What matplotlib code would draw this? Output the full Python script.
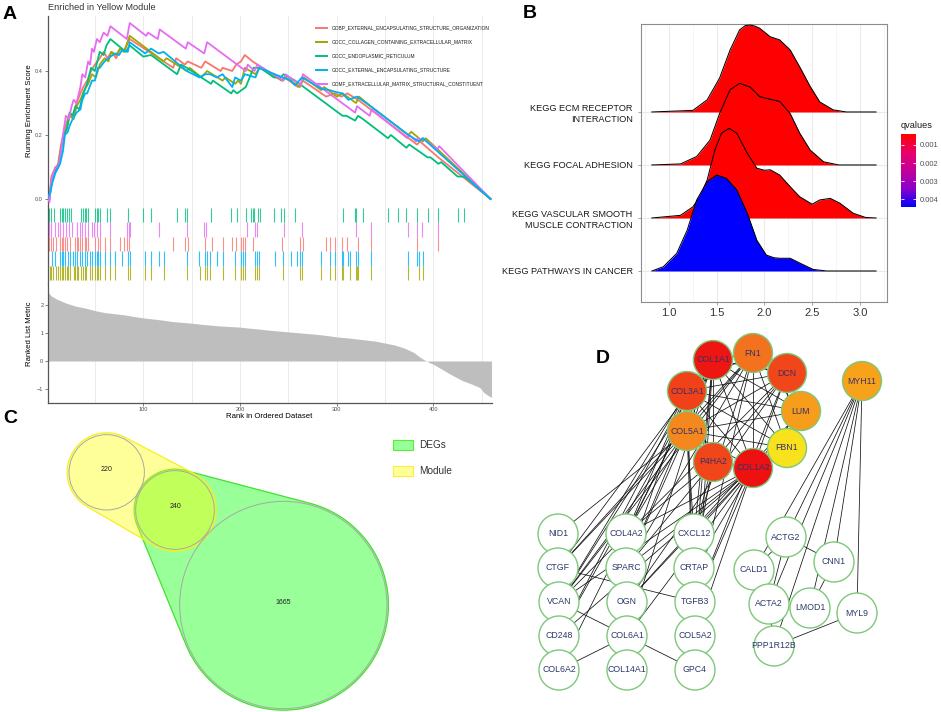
import numpy as np
import matplotlib.pyplot as plt
from matplotlib.colors import LinearSegmentedColormap, Normalize
from matplotlib.patches import Circle, Polygon, Rectangle

plt.rcParams['font.family'] = ['Liberation Sans', 'DejaVu Sans']

W, H = 941, 712

# ---------------- A: GSEA ----------------
gs_names = ['GOBP_EXTERNAL_ENCAPSULATING_STRUCTURE_ORGANIZATION',
            'GOCC_COLLAGEN_CONTAINING_EXTRACELLULAR_MATRIX',
            'GOCC_ENDOPLASMIC_RETICULUM',
            'GOCC_EXTERNAL_ENCAPSULATING_STRUCTURE',
            'GOMF_EXTRACELLULAR_MATRIX_STRUCTURAL_CONSTITUENT']
gs_colors = ['#F8766D', '#A3A500', '#00BF7D', '#00B0F6', '#E76BF3']

# running enrichment score (rank, score) vertices
es_gobp = [(1, 0.0), (3, 0.0), (5, 0.07), (8, 0.09), (12, 0.11), (15, 0.17), (18, 0.21), (21, 0.24),
           (24, 0.27), (27, 0.26), (31, 0.30), (35, 0.33), (38, 0.35), (42, 0.37), (46, 0.40), (50, 0.42),
           (55, 0.44), (59, 0.46), (63, 0.44), (67, 0.46), (72, 0.44), (76, 0.47), (80, 0.46), (86, 0.50),
           (131, 0.41), (134, 0.44), (143, 0.42), (146, 0.43), (160, 0.41), (164, 0.43), (180, 0.40),
           (182, 0.41), (192, 0.40), (196, 0.42), (201, 0.43), (205, 0.45), (213, 0.43), (243, 0.37),
           (246, 0.38), (260, 0.35), (265, 0.37), (289, 0.32), (298, 0.33), (305, 0.32), (311, 0.33),
           (322, 0.31), (335, 0.28), (383, 0.17), (386, 0.18), (405, 0.13), (459, 0.0)]
es_collagen = [(1, 0.0), (3, 0.0), (5, 0.06), (8, 0.09), (12, 0.10), (15, 0.16), (18, 0.20), (21, 0.22),
               (24, 0.26), (28, 0.25), (31, 0.29), (35, 0.31), (39, 0.34), (43, 0.36), (47, 0.39), (51, 0.38),
               (55, 0.42), (60, 0.44), (64, 0.43), (67, 0.46), (72, 0.45), (76, 0.47), (80, 0.46), (86, 0.51),
               (121, 0.43), (124, 0.44), (145, 0.40), (148, 0.41), (160, 0.38), (166, 0.40), (182, 0.37),
               (185, 0.38), (195, 0.36), (198, 0.37), (201, 0.36), (205, 0.41), (216, 0.39), (220, 0.41),
               (244, 0.37), (247, 0.38), (262, 0.35), (266, 0.38), (284, 0.34), (287, 0.35), (300, 0.32),
               (306, 0.33), (320, 0.30), (323, 0.32), (335, 0.29), (374, 0.20), (377, 0.21), (389, 0.18),
               (392, 0.19), (459, 0.0)]
es_er = [(1, 0.0), (3, 0.0), (5, 0.05), (8, 0.08), (12, 0.10), (15, 0.15), (18, 0.20), (21, 0.22),
         (24, 0.27), (27, 0.26), (30, 0.29), (34, 0.28), (38, 0.33), (42, 0.36), (46, 0.41), (50, 0.40),
         (55, 0.46), (59, 0.45), (62, 0.48), (66, 0.50), (82, 0.46), (86, 0.48), (100, 0.445), (108, 0.45),
         (135, 0.39), (139, 0.42), (145, 0.41), (170, 0.36), (172, 0.37), (191, 0.33), (193, 0.34),
         (197, 0.33), (206, 0.35), (214, 0.41), (221, 0.41), (235, 0.38), (242, 0.38), (245, 0.39),
         (257, 0.37), (306, 0.26), (310, 0.26), (319, 0.245), (322, 0.26), (327, 0.25), (353, 0.19),
         (356, 0.20), (372, 0.16), (375, 0.17), (394, 0.13), (397, 0.13), (405, 0.11), (408, 0.115),
         (425, 0.07), (432, 0.07), (459, 0.0)]
es_external = [(1, 0.0), (2, 0.01), (4, 0.02), (6, 0.05), (9, 0.08), (14, 0.11), (17, 0.15), (19, 0.20),
               (22, 0.21), (24, 0.23), (27, 0.25), (31, 0.27), (35, 0.28), (37, 0.31), (40, 0.33), (42, 0.33),
               (47, 0.37), (50, 0.37), (53, 0.41), (55, 0.41), (60, 0.43), (66, 0.445), (71, 0.455),
               (75, 0.45), (78, 0.465), (84, 0.46), (86, 0.49), (102, 0.455), (108, 0.47), (116, 0.455),
               (121, 0.46), (145, 0.40), (158, 0.38), (164, 0.39), (169, 0.39), (176, 0.38), (182, 0.39),
               (192, 0.35), (195, 0.38), (201, 0.37), (205, 0.39), (216, 0.38), (220, 0.41), (236, 0.39),
               (244, 0.38), (253, 0.37), (257, 0.355), (264, 0.38), (284, 0.345), (293, 0.34), (298, 0.335),
               (306, 0.33), (312, 0.31), (321, 0.32), (335, 0.29), (374, 0.20), (385, 0.18), (389, 0.19),
               (459, 0.0)]
es_gomf = [(1, 0.0), (3, -0.01), (5, 0.06), (9, 0.10), (12, 0.10), (14, 0.13), (17, 0.20), (20, 0.26),
           (23, 0.25), (26, 0.29), (28, 0.31), (31, 0.30), (35, 0.35), (37, 0.39), (40, 0.38), (43, 0.43),
           (45, 0.42), (47, 0.47), (49, 0.46), (52, 0.50), (55, 0.49), (59, 0.52), (63, 0.51), (66, 0.54),
           (83, 0.50), (86, 0.55), (103, 0.51), (105, 0.52), (115, 0.50), (117, 0.53), (144, 0.47),
           (146, 0.49), (163, 0.455), (166, 0.49), (206, 0.40), (208, 0.42), (215, 0.40), (218, 0.42),
           (245, 0.37), (247, 0.39), (263, 0.355), (265, 0.39), (319, 0.27), (321, 0.29), (334, 0.26),
           (336, 0.28), (373, 0.19), (375, 0.20), (382, 0.18), (384, 0.19), (387, 0.185), (389, 0.19),
           (404, 0.155), (406, 0.165), (459, 0.0)]

# gene-set hit positions (rank)
hits_gobp = [2, 3, 5, 7, 10, 14, 16, 17, 19, 21, 24, 29, 31, 33, 35, 37, 40, 41, 43, 50, 53, 55, 60, 66, 76,
             80, 83, 85, 131, 143, 146, 164, 171, 182, 192, 196, 201, 203, 205, 213, 243, 262, 265, 289, 293,
             298, 305, 311, 322, 335, 383, 405]
hits_collagen = [2, 4, 5, 7, 10, 12, 14, 16, 17, 19, 21, 22, 24, 28, 29, 31, 33, 36, 38, 40, 41, 45, 47, 50,
                 52, 53, 55, 60, 66, 71, 84, 86, 102, 108, 121, 145, 159, 164, 166, 169, 182, 195, 201, 203,
                 205, 216, 218, 220, 244, 262, 264, 284, 293, 298, 305, 306, 314, 320, 321, 322, 335, 374,
                 385, 389]
hits_er = [2, 3, 5, 8, 14, 16, 17, 19, 21, 23, 25, 36, 38, 40, 41, 43, 50, 52, 53, 55, 62, 66, 84, 100, 108,
           135, 143, 145, 170, 191, 197, 206, 211, 213, 214, 219, 221, 235, 242, 245, 257, 306, 319, 320, 327,
           353, 363, 372, 383, 394, 405, 425, 432]
hits_external = [2, 6, 9, 14, 16, 17, 19, 22, 24, 27, 29, 31, 35, 37, 40, 42, 45, 47, 50, 52, 53, 55, 60, 66,
                 71, 78, 84, 86, 102, 108, 116, 121, 145, 158, 164, 166, 169, 176, 182, 195, 201, 203, 205,
                 216, 218, 220, 236, 244, 253, 259, 262, 264, 284, 293, 298, 305, 306, 312, 314, 320, 322,
                 335, 374, 383, 385, 389]
hits_gomf = [3, 5, 9, 12, 14, 17, 20, 23, 26, 31, 35, 37, 40, 43, 47, 49, 52, 55, 66, 83, 85, 86, 116, 145,
             163, 165, 207, 216, 218, 246, 264, 320, 335, 374, 383, 388, 405]

# ranked list metric
metric_rank = [1, 5, 10, 20, 30, 40, 50, 60, 70, 80, 90, 100, 110, 120, 130, 140, 150, 160, 170, 180, 190,
               200, 210, 220, 230, 240, 250, 260, 270, 280, 290, 300, 310, 320, 330, 340, 350, 360, 370, 380,
               385, 390, 393, 396, 400, 410, 420, 430, 440, 448, 452, 456, 460]
metric_val = [2.48, 2.32, 2.22, 2.07, 1.96, 1.89, 1.80, 1.73, 1.69, 1.65, 1.59, 1.54, 1.50, 1.46, 1.41,
              1.38, 1.35, 1.31, 1.28, 1.25, 1.23, 1.21, 1.17, 1.14, 1.10, 1.07, 1.04, 1.01, 0.98, 0.95, 0.91,
              0.86, 0.83, 0.79, 0.75, 0.71, 0.64, 0.57, 0.46, 0.30, 0.16, 0.05, 0.0, -0.06, -0.12, -0.32,
              -0.52, -0.70, -0.83, -0.95, -1.12, -1.22, -1.30]

# ---------------- B: ridge plot ----------------
ridge_terms = ['KEGG PATHWAYS IN CANCER', 'KEGG VASCULAR SMOOTH\nMUSCLE CONTRACTION',
               'KEGG FOCAL ADHESION', 'KEGG ECM RECEPTOR\nINTERACTION']
ridge_qvalues = [0.00444, 0.00040, 0.00039, 0.00041]
cancer_x = [0.82, 0.94, 1.08, 1.19, 1.29, 1.40, 1.50, 1.60, 1.71, 1.82, 1.92, 2.02, 2.10, 2.16, 2.27, 2.37,
            2.51, 2.65, 3.17]
cancer_h = [0, 0.08, 0.33, 0.77, 1.34, 1.69, 1.81, 1.75, 1.53, 1.09, 0.58, 0.30, 0.25, 0.24, 0.24, 0.15,
            0.03, 0, 0]
vascular_x = [0.82, 1.12, 1.25, 1.33, 1.40, 1.48, 1.55, 1.63, 1.71, 1.82, 1.92, 2.00, 2.06, 2.16, 2.27, 2.37,
              2.50, 2.58, 2.69, 2.79, 2.93, 3.06, 3.17]
vascular_h = [0, 0.05, 0.21, 0.42, 0.72, 1.28, 1.60, 1.69, 1.60, 1.22, 0.94, 0.90, 0.91, 0.81, 0.59, 0.40,
              0.26, 0.34, 0.37, 0.28, 0.09, 0.01, 0]
focal_x = [0.82, 1.12, 1.29, 1.43, 1.53, 1.64, 1.74, 1.85, 1.95, 2.06, 2.16, 2.27, 2.37, 2.48, 2.62, 2.78, 3.17]
focal_h = [0, 0.02, 0.16, 0.47, 0.97, 1.42, 1.54, 1.47, 1.29, 1.24, 1.20, 0.97, 0.60, 0.28, 0.06, 0, 0]
ecm_x = [0.82, 1.25, 1.40, 1.53, 1.64, 1.74, 1.80, 1.85, 1.90, 1.95, 2.06, 2.16, 2.27, 2.37, 2.48, 2.58,
         2.72, 2.86, 3.17]
ecm_h = [0, 0.03, 0.23, 0.64, 1.17, 1.55, 1.63, 1.64, 1.62, 1.58, 1.42, 1.36, 1.17, 0.85, 0.48, 0.19,
         0.04, 0, 0]
ridge_x = [cancer_x, vascular_x, focal_x, ecm_x]
ridge_h = [cancer_h, vascular_h, focal_h, ecm_h]

# ---------------- C: Venn ----------------
venn_sets = ['DEGs', 'Module']
venn_counts = {'module_only': 220, 'both': 240, 'degs_only': 1665}

# ---------------- D: network ----------------
hub_genes = ['COL1A1', 'FN1', 'DCN', 'COL3A1', 'LUM', 'COL5A1', 'FBN1', 'P4HA2', 'COL1A2', 'MYH11']
hub_score = [0.98, 0.62, 0.80, 0.82, 0.38, 0.50, 0.0, 0.80, 1.0, 0.35]
other_genes = ['NID1', 'COL4A2', 'CXCL12', 'CTGF', 'SPARC', 'CRTAP', 'VCAN', 'OGN', 'TGFB3', 'CD248',
               'COL6A1', 'COL5A2', 'COL6A2', 'COL14A1', 'GPC4', 'ACTG2', 'CNN1', 'CALD1', 'ACTA2',
               'LMOD1', 'MYL9', 'PPP1R12B']
edges = [
    ('COL1A1', 'FN1'), ('COL1A1', 'DCN'), ('COL1A1', 'COL3A1'), ('COL1A1', 'LUM'), ('COL1A1', 'COL5A1'),
    ('COL1A1', 'FBN1'), ('COL1A1', 'P4HA2'), ('COL1A1', 'COL1A2'),
    ('FN1', 'DCN'), ('FN1', 'COL3A1'), ('FN1', 'LUM'), ('FN1', 'COL5A1'), ('FN1', 'FBN1'), ('FN1', 'COL1A2'),
    ('DCN', 'COL3A1'), ('DCN', 'LUM'), ('DCN', 'COL5A1'), ('DCN', 'FBN1'), ('DCN', 'COL1A2'),
    ('COL3A1', 'LUM'), ('COL3A1', 'COL5A1'), ('COL3A1', 'FBN1'), ('COL3A1', 'P4HA2'), ('COL3A1', 'COL1A2'),
    ('LUM', 'COL5A1'), ('LUM', 'FBN1'), ('LUM', 'COL1A2'),
    ('COL5A1', 'FBN1'), ('COL5A1', 'P4HA2'), ('COL5A1', 'COL1A2'), ('FBN1', 'COL1A2'), ('P4HA2', 'COL1A2'),
    ('NID1', 'COL5A1'),
    ('CTGF', 'COL1A1'), ('CTGF', 'FN1'), ('CTGF', 'COL5A1'),
    ('VCAN', 'COL1A1'), ('VCAN', 'FN1'), ('VCAN', 'COL1A2'), ('VCAN', 'COL5A1'), ('VCAN', 'DCN'),
    ('VCAN', 'COL3A1'),
    ('CD248', 'COL1A1'), ('CD248', 'COL1A2'), ('CD248', 'COL3A1'),
    ('COL6A2', 'COL1A1'), ('COL6A2', 'COL6A1'),
    ('COL4A2', 'COL1A1'), ('COL4A2', 'COL1A2'), ('COL4A2', 'COL3A1'), ('COL4A2', 'COL5A1'), ('COL4A2', 'P4HA2'),
    ('SPARC', 'COL1A1'), ('SPARC', 'COL1A2'), ('SPARC', 'COL3A1'), ('SPARC', 'COL5A1'), ('SPARC', 'FN1'),
    ('SPARC', 'DCN'),
    ('OGN', 'COL1A2'), ('OGN', 'DCN'), ('OGN', 'LUM'),
    ('COL6A1', 'COL1A2'), ('COL6A1', 'VCAN'), ('COL6A1', 'GPC4'), ('COL6A1', 'COL1A1'),
    ('CXCL12', 'COL1A1'), ('CXCL12', 'FN1'), ('CXCL12', 'P4HA2'), ('CXCL12', 'COL1A2'), ('CXCL12', 'COL5A1'),
    ('CRTAP', 'P4HA2'), ('CRTAP', 'COL1A1'), ('CRTAP', 'COL1A2'),
    ('TGFB3', 'FN1'), ('TGFB3', 'COL1A2'), ('TGFB3', 'CTGF'), ('TGFB3', 'DCN'),
    ('COL5A2', 'COL1A1'), ('COL5A2', 'COL1A2'), ('COL5A2', 'COL5A1'), ('COL5A2', 'COL3A1'),
    ('MYH11', 'ACTG2'), ('MYH11', 'CNN1'), ('MYH11', 'CALD1'), ('MYH11', 'ACTA2'), ('MYH11', 'LMOD1'),
    ('MYH11', 'MYL9'), ('MYH11', 'PPP1R12B'),
    ('ACTG2', 'CNN1'), ('ACTG2', 'CALD1'), ('ACTG2', 'ACTA2'), ('CNN1', 'LMOD1'), ('MYL9', 'PPP1R12B'),
    ('ACTA2', 'PPP1R12B'),
]

# network layout (figure pixels)
node_pos = {
    'COL1A1': (713, 360), 'FN1': (753, 353), 'DCN': (787, 373), 'COL3A1': (687, 391), 'LUM': (801, 411),
    'COL5A1': (687, 431), 'FBN1': (787, 448), 'P4HA2': (713, 462), 'COL1A2': (753, 468), 'MYH11': (862, 381),
    'NID1': (558, 534), 'COL4A2': (626, 534), 'CXCL12': (694, 534),
    'CTGF': (558, 568), 'SPARC': (626, 568), 'CRTAP': (694, 568),
    'VCAN': (559, 602), 'OGN': (627, 602), 'TGFB3': (695, 602),
    'CD248': (559, 636), 'COL6A1': (627, 636), 'COL5A2': (695, 636),
    'COL6A2': (559, 670), 'COL14A1': (627, 670), 'GPC4': (695, 670),
    'ACTG2': (786, 537), 'CNN1': (834, 562), 'CALD1': (754, 570), 'ACTA2': (769, 604),
    'LMOD1': (810, 608), 'MYL9': (857, 613), 'PPP1R12B': (774, 646),
}


def rect(x0, y0, x1, y1):
    return [x0 / W, 1 - y1 / H, (x1 - x0) / W, (y1 - y0) / H]


def circle_hull(circles, pad):
    t = np.linspace(0, 2 * np.pi, 240, endpoint=False)
    pts = []
    for (cx, cy), r in circles:
        pts += list(zip(cx + (r + pad) * np.cos(t), cy + (r + pad) * np.sin(t)))
    pts = sorted(pts)

    def cross(o, a, b):
        return (a[0] - o[0]) * (b[1] - o[1]) - (a[1] - o[1]) * (b[0] - o[0])

    lower, upper = [], []
    for p in pts:
        while len(lower) >= 2 and cross(lower[-2], lower[-1], p) <= 0:
            lower.pop()
        lower.append(p)
    for p in reversed(pts):
        while len(upper) >= 2 and cross(upper[-2], upper[-1], p) <= 0:
            upper.pop()
        upper.append(p)
    return lower[:-1] + upper[:-1]


fig = plt.figure(figsize=(9.41, 7.12), dpi=100)

grid_c = '#EBEBEB'
spine_c = '#555555'
tick_c = '#4D4D4D'

# ---- A1 running ES ----
ax_es = fig.add_axes(rect(47.5, 16, 491.5, 206))
es_all = [es_gobp, es_collagen, es_er, es_gomf, es_external]
col_order = [gs_colors[0], gs_colors[1], gs_colors[2], gs_colors[4], gs_colors[3]]
for pts, c in zip(es_all, col_order):
    r, s = zip(*pts)
    ax_es.plot(r, s, color=c, lw=1.3, zorder=3)
ax_es.set_xlim(1, 460)
ax_es.set_ylim(-0.022, 0.572)
ax_es.set_xticks([])
ax_es.set_yticks([0, 0.2, 0.4])
ax_es.set_yticklabels(['0.0', '0.2', '0.4'])
ax_es.tick_params(axis='y', labelsize=4, colors=tick_c, length=2, width=0.5, pad=1.5)
for v in range(50, 460, 50):
    ax_es.axvline(v, color=grid_c, lw=0.7, zorder=0)
for sp in ['top', 'right', 'bottom']:
    ax_es.spines[sp].set_visible(False)
ax_es.spines['left'].set_color(spine_c)
ax_es.spines['left'].set_linewidth(0.9)
ax_es.set_ylabel('Running Enrichment Score', fontsize=5.6)
ax_es.yaxis.set_label_coords(-0.032, 0.5)
ax_es.set_title('Enriched in Yellow Module', fontsize=6.6, color='#333333', loc='left', pad=4)

# ---- A2 hits ----
ax_hit = fig.add_axes(rect(47.5, 206, 491.5, 284))
hit_rows = [(hits_collagen, gs_colors[1]), (hits_external, gs_colors[3]), (hits_gobp, gs_colors[0]),
            (hits_gomf, gs_colors[4]), (hits_er, gs_colors[2])]
for k, (hits, c) in enumerate(hit_rows):
    ax_hit.vlines(hits, k, k + 1, colors=c, lw=0.8, alpha=0.8)
for v in range(50, 460, 50):
    ax_hit.axvline(v, color=grid_c, lw=0.7, zorder=0)
ax_hit.set_xlim(1, 460)
ax_hit.set_ylim(-0.278, 5.139)
ax_hit.set_xticks([])
ax_hit.set_yticks([])
for sp in ['top', 'right', 'bottom']:
    ax_hit.spines[sp].set_visible(False)
ax_hit.spines['left'].set_color(spine_c)
ax_hit.spines['left'].set_linewidth(0.9)

# ---- A3 ranked metric ----
ax_m = fig.add_axes(rect(47.5, 284, 491.5, 403))
ax_m.fill_between(metric_rank, 0, metric_val, color='#BEBEBE', lw=0, zorder=2)
for v in range(50, 460, 50):
    ax_m.axvline(v, color=grid_c, lw=0.7, zorder=0)
ax_m.set_xlim(1, 460)
ax_m.set_ylim(-1.5, 2.75)
ax_m.set_xticks([100, 200, 300, 400])
ax_m.set_yticks([-1, 0, 1, 2])
ax_m.tick_params(labelsize=4, colors=tick_c, length=2, width=0.5, pad=1)
for sp in ['top', 'right']:
    ax_m.spines[sp].set_visible(False)
for sp in ['left', 'bottom']:
    ax_m.spines[sp].set_color(spine_c)
    ax_m.spines[sp].set_linewidth(0.9)
ax_m.set_ylabel('Ranked List Metric', fontsize=5.6)
ax_m.yaxis.set_label_coords(-0.032, 0.58)
ax_m.set_xlabel('Rank in Ordered Dataset', fontsize=5.6)
ax_m.xaxis.set_label_coords(0.5, -0.088)

# ---- B ridges ----
cmap_q = LinearSegmentedColormap.from_list('q', ['#FF0000', '#E9006B', '#C3009B', '#8B00C8', '#0000FF'])
q_lo, q_hi = min(ridge_qvalues), max(ridge_qvalues)
norm_q = Normalize(q_lo, q_hi)
ax_b = fig.add_axes(rect(641, 24, 887, 302))
z = 3
for i in range(len(ridge_terms) - 1, -1, -1):
    base = i + 1
    xs = np.array(ridge_x[i])
    ys = base + np.array(ridge_h[i])
    ax_b.fill_between(xs, base, ys, color=cmap_q(norm_q(ridge_qvalues[i])), lw=0, zorder=z)
    ax_b.plot(xs, ys, color='black', lw=0.75, zorder=z + 1)
    z += 2
ax_b.set_xlim(0.706, 3.285)
ax_b.set_ylim(0.415, 5.66)
ax_b.set_xticks([1.0, 1.5, 2.0, 2.5, 3.0])
ax_b.set_xticklabels(['1.0', '1.5', '2.0', '2.5', '3.0'])
ax_b.set_xticks([0.75, 1.25, 1.75, 2.25, 2.75, 3.25], minor=True)
ax_b.set_yticks([1, 2, 3, 4])
ax_b.set_yticklabels(ridge_terms, linespacing=1.35)
ax_b.grid(which='major', color=grid_c, lw=0.8)
ax_b.grid(which='minor', axis='x', color='#F2F2F2', lw=0.5)
ax_b.set_axisbelow(True)
ax_b.tick_params(axis='x', which='major', labelsize=8, colors='#7F7F7F', labelcolor='#333333',
                 length=2.5, width=0.5, pad=2)
ax_b.tick_params(axis='y', labelsize=6.6, colors='#7F7F7F', labelcolor='#1A1A1A', length=2.5, width=0.5)
ax_b.tick_params(which='minor', length=0)
for sp in ax_b.spines.values():
    sp.set_color('#8C8C8C')
    sp.set_linewidth(0.8)

# colorbar
ax_cb = fig.add_axes(rect(901, 134, 916, 207))
grad = np.linspace(q_lo, q_hi, 256).reshape(-1, 1)
ax_cb.imshow(grad, aspect='auto', cmap=cmap_q, norm=norm_q, extent=[0, 1, q_hi, q_lo])
cb_ticks = [0.001, 0.002, 0.003, 0.004]
ax_cb.set_ylim(q_hi, q_lo)
ax_cb.set_xlim(0, 1)
ax_cb.hlines(cb_ticks, 0, 0.2, color='white', lw=0.6)
ax_cb.hlines(cb_ticks, 0.8, 1, color='white', lw=0.6)
ax_cb.set_xticks([])
ax_cb.yaxis.tick_right()
ax_cb.set_yticks(cb_ticks)
ax_cb.set_yticklabels(['0.001', '0.002', '0.003', '0.004'])
ax_cb.tick_params(axis='y', length=0, labelsize=5.4, labelcolor='#4D4D4D', pad=3)
for sp in ax_cb.spines.values():
    sp.set_visible(False)
fig.text(901 / W, 1 - 125 / H, 'qvalues', fontsize=6.6, color='#1A1A1A', va='center', ha='left')

# ---- overlay (pixel coords) for legend A, panel C, panel D, letters ----
ax_o = fig.add_axes([0, 0, 1, 1])
ax_o.set_xlim(0, W)
ax_o.set_ylim(H, 0)
ax_o.axis('off')

# legend of A
for i, (name, c) in enumerate(zip(gs_names, gs_colors)):
    y = 27.5 + 14.1 * i
    ax_o.plot([316, 327], [y, y], color=c, lw=1.4)
    ax_o.text(332, y, name, fontsize=3.55, va='center', ha='left', color='#1A1A1A')

# Venn (C)
k_area = 2.54
c_mod, c_both, c_deg = (106.7, 472.3), (175, 510), (283.3, 605)
r_mod = k_area * np.sqrt(venn_counts['module_only'])
r_both = k_area * np.sqrt(venn_counts['both'])
r_deg = k_area * np.sqrt(venn_counts['degs_only'])
green_hull = circle_hull([(c_both, r_both), (c_deg, r_deg)], 1.5)
yellow_hull = circle_hull([(c_mod, r_mod), (c_both, r_both)], 1.8)
ax_o.add_patch(Polygon(green_hull, closed=True, fc=(0, 1, 0, 0.4), ec='#44E030', lw=0.9))
ax_o.add_patch(Polygon(yellow_hull, closed=True, fc=(1, 1, 0, 0.4), ec='#F5F020', lw=0.9))
for c, r in [(c_mod, r_mod), (c_both, r_both), (c_deg, r_deg)]:
    ax_o.add_patch(Circle(c, r, fc='none', ec='#A8A8A8', lw=0.7))
for c, key in [(c_mod, 'module_only'), (c_both, 'both'), (c_deg, 'degs_only')]:
    ax_o.text(c[0], c[1] - 3, str(venn_counts[key]), fontsize=5, ha='center', va='center', color='#222222')
ax_o.add_patch(Rectangle((393, 439.5), 20, 10, fc='#99FF99', ec='#55EE33', lw=0.8))
ax_o.add_patch(Rectangle((393, 466), 20, 10, fc='#FFFF99', ec='#FFEE33', lw=0.8))
ax_o.text(419, 444.5, venn_sets[0], fontsize=7.2, va='center', ha='left', color='#333333')
ax_o.text(419, 471, venn_sets[1], fontsize=7.2, va='center', ha='left', color='#333333')

# Network (D)
for a, b in edges:
    (x1, y1), (x2, y2) = node_pos[a], node_pos[b]
    ax_o.plot([x1, x2], [y1, y2], color='#111111', lw=0.55, zorder=2)
cmap_hub = LinearSegmentedColormap.from_list('hub', ['#F8E21E', '#F7A51B', '#F26A1E', '#EE1111'])
for g, s in zip(hub_genes, hub_score):
    ax_o.add_patch(Circle(node_pos[g], 19.5, fc=cmap_hub(s), ec='#7DC87A', lw=1.0, zorder=3))
    ax_o.text(*node_pos[g], g, fontsize=6.3, ha='center', va='center', color='#3A2F66', zorder=4)
for g in other_genes:
    ax_o.add_patch(Circle(node_pos[g], 20, fc='white', ec='#7DC87A', lw=1.0, zorder=3))
    ax_o.text(*node_pos[g], g, fontsize=6.3, ha='center', va='center', color='#2B3A67', zorder=4)

# panel letters
for lab, x, y in [('A', 2.5, 19), ('B', 522.5, 18), ('C', 3, 423), ('D', 596, 363)]:
    ax_o.text(x, y, lab, fontsize=14, fontweight='bold', ha='left', va='baseline', color='black')

fig.savefig('out.png', dpi=100)
